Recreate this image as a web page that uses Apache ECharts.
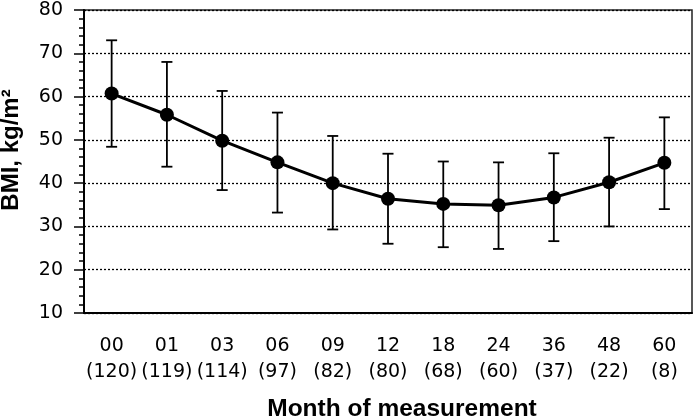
<!DOCTYPE html>
<html>
<head>
<meta charset="utf-8">
<script src="https://cdn.jsdelivr.net/npm/echarts@6/dist/echarts.min.js"></script>
<style>
html,body{margin:0;padding:0;background:#fff;}
#chart{width:693px;height:417px;}
</style>
</head>
<body>
<div id="chart"></div>
<script>
var months = ['00','01','03','06','09','12','18','24','36','48','60'];
var counts = [120,119,114,97,82,80,68,60,37,22,8];
var means  = [60.7,55.8,49.8,44.8,40.0,36.4,35.2,34.9,36.7,40.2,44.7];
var upper  = [73.0,68.0,61.3,56.3,50.9,46.8,45.0,44.8,46.9,50.5,55.2];
var lower  = [48.4,43.8,38.4,33.2,29.3,26.0,25.2,24.8,26.6,30.0,34.0];

var categories = months.map(function(m, i){ return m + '\n(' + counts[i] + ')'; });
var errData = months.map(function(m, i){ return [i, lower[i], upper[i]]; });

var chart = echarts.init(document.getElementById('chart'), null, {renderer:'canvas'});
chart.setOption({
  animation: false,
  backgroundColor: '#fff',
  grid: {left: 84, right: 1, top: 10, bottom: 104, show: true, borderColor: '#222', borderWidth: 1.5,
         containLabel: false, outerBoundsMode: 'none'},
  xAxis: {
    type: 'category',
    data: categories,
    boundaryGap: true,
    name: 'Month of measurement',
    nameLocation: 'middle',
    nameGap: 84,
    nameTextStyle: {fontFamily: 'Liberation Sans', fontWeight: 'bold', fontSize: 24.5, color: '#000', padding: [0,0,0,28]},
    axisLine: {lineStyle: {color: '#000', width: 2}},
    axisTick: {alignWithLabel: true, length: 10, lineStyle: {color: '#000', width: 2}},
    axisLabel: {interval: 0, margin: 20, fontFamily: 'DejaVu Sans', fontSize: 19, color: '#000', lineHeight: 26},
    splitLine: {show: false}
  },
  yAxis: {
    type: 'value',
    min: 10, max: 80, interval: 10,
    name: 'BMI, kg/m²',
    nameLocation: 'middle',
    nameGap: 61,
    nameRotate: 90,
    nameTextStyle: {fontFamily: 'Liberation Sans', fontWeight: 'bold', fontSize: 24, color: '#000', padding: [0,0,0,23]},
    axisLine: {show: true, lineStyle: {color: '#000', width: 2}},
    axisTick: {show: true, length: 10, lineStyle: {color: '#000', width: 1.5}},
    minorTick: {show: true, splitNumber: 5, length: 5, lineStyle: {color: '#000', width: 1.5}},
    axisLabel: {margin: 21, fontFamily: 'DejaVu Sans', fontSize: 19, color: '#000'},
    splitLine: {show: true, lineStyle: {color: '#000', width: 1.3, type: [2, 2]}}
  },
  series: [
    {
      type: 'custom',
      z: 2,
      data: errData,
      renderItem: function(params, api){
        var x = api.coord([api.value(0), api.value(1)])[0];
        var yl = api.coord([api.value(0), api.value(1)])[1];
        var yh = api.coord([api.value(0), api.value(2)])[1];
        var hw = 5.5;
        var st = {stroke: '#000', lineWidth: 1.8};
        return {type: 'group', children: [
          {type: 'line', shape: {x1: x, y1: yh, x2: x, y2: yl}, style: st},
          {type: 'line', shape: {x1: x - hw, y1: yh, x2: x + hw, y2: yh}, style: st},
          {type: 'line', shape: {x1: x - hw, y1: yl, x2: x + hw, y2: yl}, style: st}
        ]};
      }
    },
    {
      type: 'line',
      z: 3,
      data: means,
      symbol: 'circle',
      symbolSize: 14,
      lineStyle: {color: '#000', width: 3},
      itemStyle: {color: '#000', borderWidth: 0}
    }
  ]
});
</script>
</body>
</html>
